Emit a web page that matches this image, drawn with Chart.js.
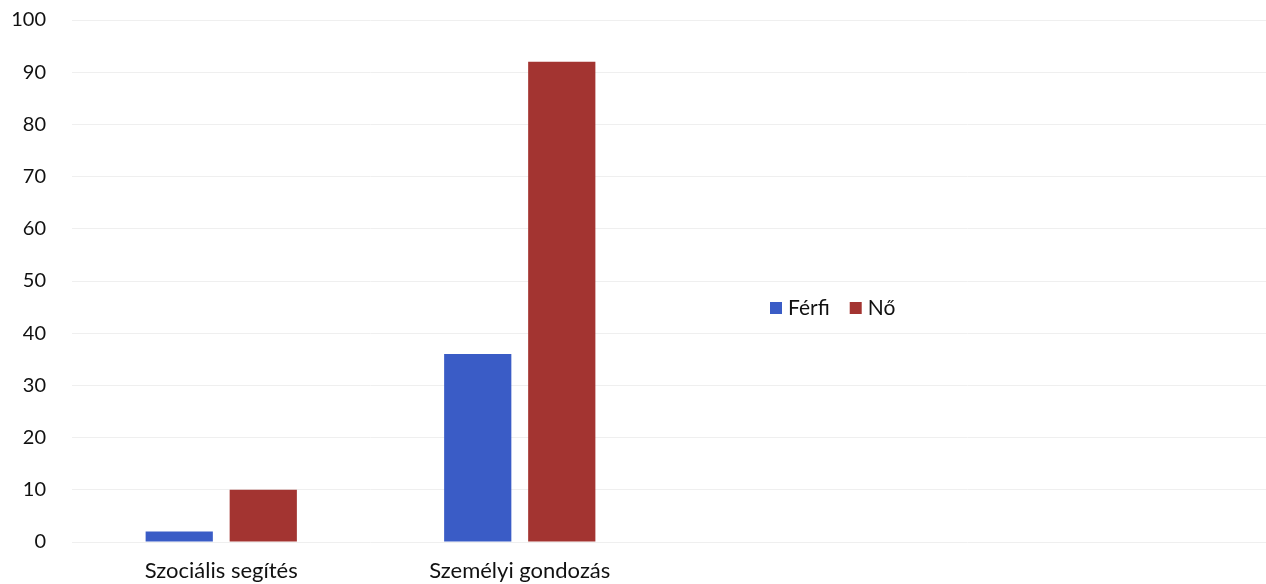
<!DOCTYPE html>
<html>
<head>
<meta charset="utf-8">
<script src="https://cdn.jsdelivr.net/npm/chart.js@4/dist/chart.umd.min.js"></script>
<style>
  html, body { margin: 0; padding: 0; background: #fff; }
  #wrap { width: 1266px; height: 584px; }
</style>
</head>
<body>
<div id="wrap"><canvas id="chart"></canvas></div>
<script>
// adatok
const categories = ['Szociális segítés', 'Személyi gondozás', '', '']
const ferfi = [2, 36, null, null]
const no = [10, 92, null, null]
const yTicks = [0, 10, 20, 30, 40, 50, 60, 70, 80, 90, 100]

const blue = '#3a5cc6'
const red = '#a33431'

// jelmagyarázat a rajzterület közepén, jobbra
const legendPlugin = {
  id: 'midLegend',
  afterDraw(chart) {
    const ctx = chart.ctx
    let x = 770
    const y = 308
    ctx.save()
    ctx.font = '21px Lato'
    ctx.textBaseline = 'middle'
    chart.data.datasets.forEach((ds) => {
      ctx.fillStyle = ds.backgroundColor
      ctx.fillRect(x, y - 6, 12, 12)
      ctx.fillStyle = '#111'
      ctx.fillText(ds.label, x + 18, y)
      x += 18 + ctx.measureText(ds.label).width + 20
    })
    ctx.restore()
  },
}

new Chart(document.getElementById('chart'), {
  type: 'bar',
  data: {
    labels: categories,
    datasets: [
      { label: 'Férfi', data: ferfi, backgroundColor: blue },
      { label: 'Nő', data: no, backgroundColor: red },
    ],
  },
  options: {
    responsive: true,
    maintainAspectRatio: false,
    animation: false,
    layout: { padding: { top: 20, right: 0, left: 0, bottom: 0 } },
    datasets: {
      bar: { categoryPercentage: 0.563, barPercentage: 0.8 },
    },
    scales: {
      x: {
        afterFit: (scale) => {
          scale.height = 42
          scale.paddingLeft = 0
          scale.paddingRight = 0
        },
        grid: { display: false },
        border: { display: false },
        ticks: {
          color: '#111',
          font: { family: 'Lato', size: 22 },
          padding: 8,
          maxRotation: 0,
        },
      },
      y: {
        min: 0,
        max: 100,
        afterFit: (scale) => {
          scale.width = 72
          scale.paddingTop = 0
          scale.paddingBottom = 0
        },
        afterBuildTicks: (axis) => {
          axis.ticks = yTicks.map((v) => ({ value: v }))
        },
        grid: { color: '#efefef', drawTicks: false },
        border: { display: false },
        ticks: {
          color: '#111',
          font: { family: 'Lato', size: 20 },
          padding: 26,
        },
      },
    },
    plugins: {
      legend: { display: false },
      tooltip: { enabled: false },
    },
  },
  plugins: [legendPlugin],
})
</script>
</body>
</html>
